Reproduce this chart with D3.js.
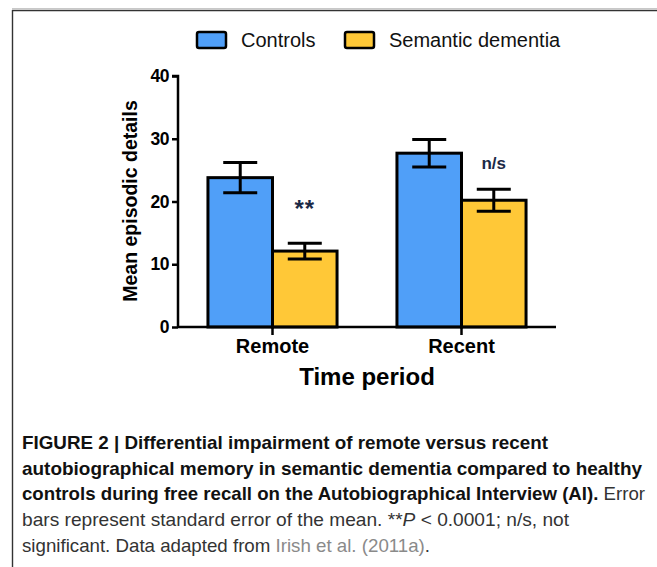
<!DOCTYPE html>
<html lang="en">
<head>
<meta charset="UTF-8">
<title>Remote vs recent autobiographical memory</title>
<script src="https://d3js.org/d3.v7.min.js"></script>
<style>
    html, body { margin: 0; padding: 0; background: #fff; }
    svg { display: block; }
    .axis path, .axis line { stroke: #000; stroke-width: 2.5px; }
</style>
</head>
<body>
<div id="chart"></div>
<script>
// Chart data
const periods = ["Remote", "Recent"];
const groups = ["Controls", "Semantic dementia"];
const controlsMean = [23.8, 27.7];
const controlsSE = [2.4, 2.2];
const dementiaMean = [12.1, 20.2];
const dementiaSE = [1.25, 1.75];
const dementiaNotes = ["**", "n/s"];
const yTicks = [0, 10, 20, 30, 40];
const groupColors = ["#509ff8", "#ffc837"];

const captionLines = [
    [{ t: "FIGURE 2 | Differential impairment of remote versus recent", b: true }],
    [{ t: "autobiographical memory in semantic dementia compared to healthy", b: true }],
    [{ t: "controls during free recall on the Autobiographical Interview (AI).", b: true }, { t: " Error" }],
    [{ t: "bars represent standard error of the mean. **" }, { t: "P", i: true }, { t: " < 0.0001; n/s, not" }],
    [{ t: "significant. Data adapted from " }, { t: "Irish et al. (2011a)", g: true }, { t: "." }]
];
const captionEnds = [548, 642, 645, 569, 430];

const W = 657, H = 567;
const svg = d3.select("#chart").append("svg")
    .attr("width", W)
    .attr("height", H);

// page frame
svg.append("line").attr("x1", 12).attr("x2", W).attr("y1", 8.5).attr("y2", 8.5)
    .attr("stroke", "#c8c8c8").attr("stroke-width", 1);
svg.append("line").attr("x1", 12).attr("x2", W).attr("y1", 10.5).attr("y2", 10.5)
    .attr("stroke", "#333").attr("stroke-width", 1.6);
svg.append("line").attr("x1", 12.5).attr("x2", 12.5).attr("y1", 10).attr("y2", H)
    .attr("stroke", "#333").attr("stroke-width", 1.4);

const rows = periods.map((p, i) => ({
    period: p,
    values: [
        { group: groups[0], mean: controlsMean[i], se: controlsSE[i], note: null },
        { group: groups[1], mean: dementiaMean[i], se: dementiaSE[i], note: dementiaNotes[i] }
    ]
}));

const x0 = d3.scaleBand().domain(periods).range([178, 556])
    .paddingInner(0.317).paddingOuter(0.1585);
const x1 = d3.scaleBand().domain(groups).range([0, x0.bandwidth()]);
const y = d3.scaleLinear().domain([0, 40]).range([327, 76]);
const color = d3.scaleOrdinal().domain(groups).range(groupColors);

// bars
const g = svg.selectAll("g.period").data(rows).enter().append("g")
    .attr("class", "period")
    .attr("transform", d => `translate(${x0(d.period)},0)`);

g.selectAll("rect").data(d => d.values).enter().append("rect")
    .attr("x", d => x1(d.group))
    .attr("y", d => y(d.mean))
    .attr("width", x1.bandwidth())
    .attr("height", d => y(0) - y(d.mean))
    .attr("fill", d => color(d.group))
    .attr("stroke", "#000")
    .attr("stroke-width", 3);

// error bars
const capW = 34;
const eb = g.selectAll("g.err").data(d => d.values).enter().append("g")
    .attr("class", "err")
    .attr("stroke", "#000").attr("stroke-width", 3);
eb.append("line")
    .attr("x1", d => x1(d.group) + x1.bandwidth() / 2)
    .attr("x2", d => x1(d.group) + x1.bandwidth() / 2)
    .attr("y1", d => y(d.mean + d.se))
    .attr("y2", d => y(d.mean - d.se));
eb.append("line")
    .attr("x1", d => x1(d.group) + x1.bandwidth() / 2 - capW / 2)
    .attr("x2", d => x1(d.group) + x1.bandwidth() / 2 + capW / 2)
    .attr("y1", d => y(d.mean + d.se))
    .attr("y2", d => y(d.mean + d.se));
eb.append("line")
    .attr("x1", d => x1(d.group) + x1.bandwidth() / 2 - capW / 2)
    .attr("x2", d => x1(d.group) + x1.bandwidth() / 2 + capW / 2)
    .attr("y1", d => y(d.mean - d.se))
    .attr("y2", d => y(d.mean - d.se));

// significance notes
g.selectAll("text.note").data(d => d.values.filter(v => v.note)).enter().append("text")
    .attr("class", "note")
    .attr("x", d => x1(d.group) + x1.bandwidth() / 2)
    .attr("y", d => y(d.mean + d.se) - (d.note === "**" ? 26 : 20))
    .attr("text-anchor", "middle")
    .attr("font-family", "'Liberation Sans', Arial, sans-serif")
    .attr("font-weight", "bold")
    .attr("font-size", d => d.note === "**" ? "24px" : "17px")
    .attr("letter-spacing", d => d.note === "**" ? "1px" : "0px")
    .attr("fill", "#1c2a47")
    .text(d => d.note);

// axes
const yAxis = svg.append("g").attr("class", "axis")
    .attr("transform", "translate(178,0)")
    .call(d3.axisLeft(y).tickValues(yTicks).tickSize(6).tickPadding(3));
yAxis.selectAll("text")
    .attr("font-family", "'Liberation Sans', Arial, sans-serif")
    .attr("font-weight", "bold").attr("font-size", "17.5px").attr("fill", "#000")
    .attr("letter-spacing", "-0.5px");
yAxis.select(".domain").attr("d", `M-6,${y(40)}H0V${y(0)}`);

const xAxis = svg.append("g").attr("class", "axis")
    .attr("transform", `translate(0,${y(0)})`)
    .call(d3.axisBottom(x0).tickSize(8).tickPadding(4));
xAxis.select(".domain").attr("d", "M178,0H556");
xAxis.selectAll("text")
    .attr("font-family", "'Liberation Sans', Arial, sans-serif")
    .attr("font-weight", "bold").attr("font-size", "20px").attr("fill", "#000");

// axis titles
svg.append("text")
    .attr("transform", "translate(137,201) rotate(-90)")
    .attr("text-anchor", "middle")
    .attr("font-family", "'Liberation Sans', Arial, sans-serif")
    .attr("font-weight", "bold").attr("font-size", "19.5px")
    .text("Mean episodic details");

svg.append("text")
    .attr("x", 367).attr("y", 385)
    .attr("text-anchor", "middle")
    .attr("font-family", "'Liberation Sans', Arial, sans-serif")
    .attr("font-weight", "bold").attr("font-size", "24px")
    .text("Time period");

// legend
const legendX = [197, 345];
const lg = svg.selectAll("g.legend").data(groups).enter().append("g")
    .attr("class", "legend")
    .attr("transform", (d, i) => `translate(${legendX[i]},32)`);
lg.append("rect")
    .attr("width", 29).attr("height", 16).attr("rx", 2)
    .attr("fill", d => color(d))
    .attr("stroke", "#000").attr("stroke-width", 2.5);
lg.append("text")
    .attr("x", 44).attr("y", 15)
    .attr("font-family", "'Liberation Sans', Arial, sans-serif")
    .attr("font-size", "20px").attr("fill", "#111")
    .text(d => d);

// caption
const capX = 22;
const cap = svg.selectAll("text.caption").data(captionLines).enter().append("text")
    .attr("class", "caption")
    .attr("x", capX)
    .attr("y", (d, i) => 449 + i * 25.7)
    .attr("font-family", "'Liberation Sans Narrow', 'Liberation Sans', Arial, sans-serif")
    .attr("font-size", "18.5px")
    .attr("fill", "#222")
    .attr("textLength", (d, i) => captionEnds[i] - capX)
    .attr("lengthAdjust", "spacingAndGlyphs");
cap.selectAll("tspan").data(d => d).enter().append("tspan")
    .attr("font-weight", d => d.b ? "bold" : "normal")
    .attr("font-style", d => d.i ? "italic" : "normal")
    .attr("fill", d => d.g ? "#8a8a8a" : (d.b ? "#111" : "#333"))
    .text(d => d.t);
</script>
</body>
</html>
